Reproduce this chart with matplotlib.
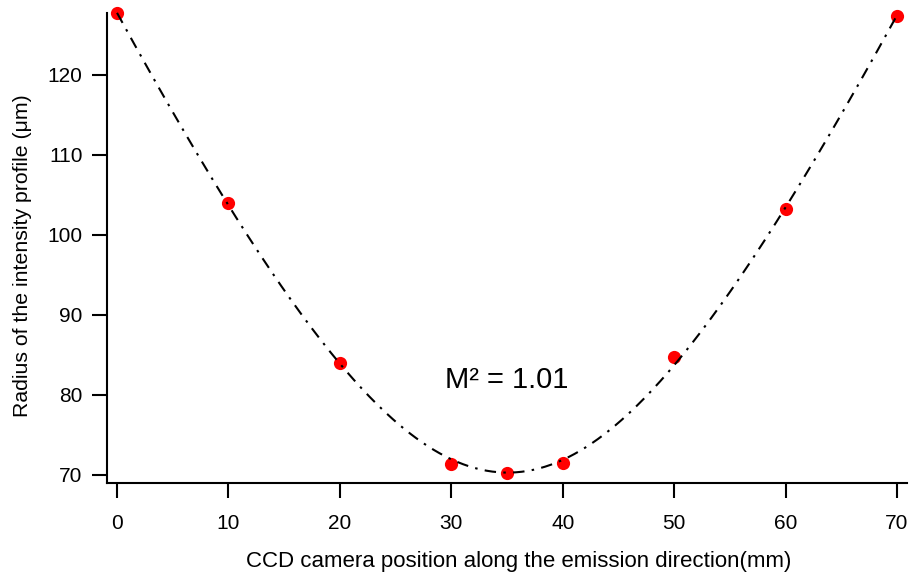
import numpy as np
import matplotlib.pyplot as plt

plt.rcParams['font.family'] = ['Liberation Sans', 'DejaVu Sans']

# measured beam radius along the propagation direction
position_mm = [0, 10, 20, 30, 35, 40, 50, 60, 70]
radius_um = [127.7, 104.0, 83.95, 71.4, 70.2, 71.45, 84.8, 103.2, 127.4]
x_ticks = [0, 10, 20, 30, 40, 50, 60, 70]
y_ticks = [70, 80, 90, 100, 110, 120]

# caustic fit: w^2 is quadratic in z
coef = np.polyfit(position_mm, np.square(radius_um), 2)
z_fit = np.linspace(min(position_mm), max(position_mm), 400)
w_fit = np.sqrt(np.polyval(coef, z_fit))

fig = plt.figure(figsize=(9.13, 5.74), dpi=100)
ax = fig.add_axes([107 / 913, 1 - 483 / 574, 800 / 913, 470 / 574])

ax.plot(position_mm, radius_um, 'o', color='red', markersize=9.5,
        markeredgewidth=0, zorder=2, clip_on=False)
ax.plot(z_fit, w_fit, color='black', linewidth=1.5,
        linestyle=(0, (5.5, 3.5, 1.2, 3.5)), zorder=3, clip_on=False)

ax.set_xlim(-0.9, 70.9)
ax.set_ylim(69.0, 127.75)
ax.set_xticks(x_ticks)
ax.set_yticks(y_ticks)

for side in ['top', 'right']:
    ax.spines[side].set_visible(False)
for side in ['left', 'bottom']:
    ax.spines[side].set_linewidth(1.5)
ax.tick_params(direction='out', length=11, width=1.5, labelsize=15)
ax.tick_params(axis='x', pad=11)
ax.tick_params(axis='y', pad=6.5)

ax.set_xlabel('CCD camera position along the emission direction(mm)',
              fontsize=16, labelpad=12)
ax.xaxis.set_label_coords(0.515, -0.145)
ax.set_ylabel('Radius of the intensity profile (μm)', fontsize=15.3,
              labelpad=11)
ax.yaxis.label.set_y(0.483)

ax.text(35, 81.9, 'M² = 1.01', fontsize=21, ha='center', va='center')

fig.savefig('out.png', dpi=100)
